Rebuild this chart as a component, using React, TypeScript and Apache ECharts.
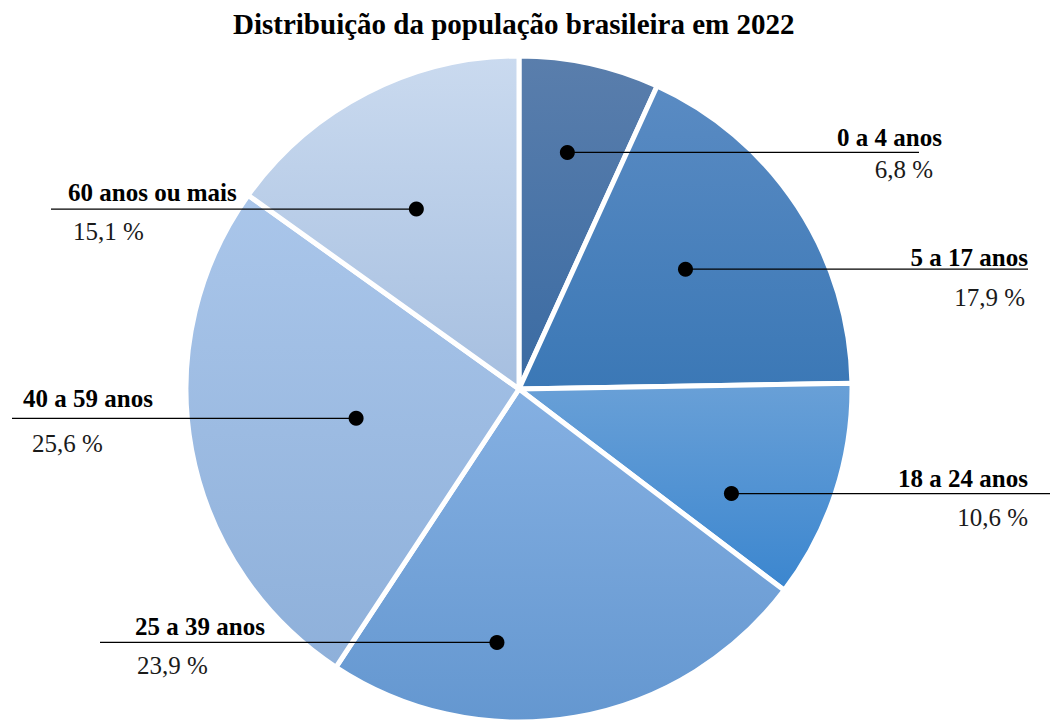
import React, { useEffect, useRef } from 'react';
import * as echarts from 'echarts';

// ---- data ----
const CATEGORIES = ['0 a 4 anos', '5 a 17 anos', '18 a 24 anos', '25 a 39 anos', '40 a 59 anos', '60 anos ou mais'];
const SHARES = [6.8, 17.9, 10.6, 23.9, 25.6, 15.1];
const TITLE = 'Distribuição da população brasileira em 2022';

// ---- styling / layout ----
const TOP_COLORS = ['#5a7eac', '#5a8bc3', '#69a0d7', '#85b0e2', '#aac6ea', '#cadaef'];
const BOTTOM_COLORS = ['#3a6ba3', '#3b78b6', '#3b86cf', '#6497d0', '#8eb0da', '#a6bfe0'];
const CX = 519;
const CY = 389;
const R = 333;
const DOT_RADIUS = [0.725, 0.616, 0.711, 0.764, 0.497, 0.622];
const DOT_SHIFT_DEG = [-0.7, -2.5, 8.1, 14.7, 0.35, -2.5];
const LABEL_SIDE = ['R', 'R', 'R', 'L', 'L', 'L'];
const NAME_X = [942, 1028, 1028, 135, 23, 68];
const PCT_X = [933, 1025, 1028, 137, 32, 73];
const NAME_DY = [-15, -12, -15, -16, -20, -17];
const PCT_DY = [17, 28, 24, 23, 25, 22];
const LINE_END_X = [919, 1028, 1050, 100, 12, 51];

const SERIF = '"Liberation Serif", "Times New Roman", serif';

export default function App() {
  const ref = useRef<HTMLDivElement>(null);

  useEffect(() => {
    if (!ref.current) return;
    const chart = echarts.init(ref.current, null, { renderer: 'svg' });
    const total = SHARES.reduce((a, b) => a + b, 0);
    const starts: number[] = [];
    let acc = 0;
    SHARES.forEach((v) => {
      starts.push(acc);
      acc += v;
    });
    // angle (in % of full turn) where each slice's marker sits
    const dotPct = SHARES.map((v, i) => ((starts[i] + v / 2) / total) * 100 + DOT_SHIFT_DEG[i] / 3.6);
    const fmt = (v: number) => v.toFixed(1).replace('.', ',') + ' %';

    chart.setOption({
      animation: false,
      backgroundColor: '#ffffff',
      title: {
        text: TITLE,
        left: 228,
        top: 4,
        textStyle: { fontFamily: SERIF, fontWeight: 'bold', fontSize: 29, color: '#000' },
      },
      polar: { center: [CX, CY], radius: R },
      angleAxis: { type: 'value', min: 0, max: 100, startAngle: 90, clockwise: true, show: false },
      radiusAxis: { type: 'value', min: 0, max: 1, show: false },
      series: [
        {
          type: 'pie',
          center: [CX, CY],
          radius: R,
          startAngle: 90,
          clockwise: true,
          silent: true,
          emphasis: { disabled: true },
          label: { show: false },
          labelLine: { show: false },
          itemStyle: { borderColor: '#ffffff', borderWidth: 5 },
          data: CATEGORIES.map((name, i) => ({
            name,
            value: SHARES[i],
            itemStyle: {
              color: new echarts.graphic.LinearGradient(0, 0, 0, 1, [
                { offset: 0, color: TOP_COLORS[i] },
                { offset: 1, color: BOTTOM_COLORS[i] },
              ]),
            },
          })),
        },
        {
          type: 'custom',
          coordinateSystem: 'polar',
          silent: true,
          z: 10,
          data: SHARES.map((_, i) => [DOT_RADIUS[i], dotPct[i]]),
          renderItem: (params: any, api: any) => {
            const i = params.dataIndex;
            const p = api.coord([api.value(0), api.value(1)]);
            const right = LABEL_SIDE[i] === 'R';
            const align = right ? 'right' : 'left';
            return {
              type: 'group',
              children: [
                {
                  type: 'line',
                  shape: { x1: p[0], y1: p[1], x2: LINE_END_X[i], y2: p[1] },
                  style: { stroke: '#000', lineWidth: 1.3 },
                },
                {
                  type: 'circle',
                  shape: { cx: p[0], cy: p[1], r: 7.5 },
                  style: { fill: '#000' },
                },
                {
                  type: 'text',
                  x: NAME_X[i],
                  y: p[1] + NAME_DY[i],
                  style: {
                    text: CATEGORIES[i],
                    fontFamily: SERIF,
                    fontWeight: 'bold',
                    fontSize: 25,
                    fill: '#000',
                    align,
                    verticalAlign: 'middle',
                  },
                },
                {
                  type: 'text',
                  x: PCT_X[i],
                  y: p[1] + PCT_DY[i],
                  style: {
                    text: fmt(SHARES[i]),
                    fontFamily: SERIF,
                    fontWeight: 'normal',
                    fontSize: 25,
                    fill: '#1a1a1a',
                    align,
                    verticalAlign: 'middle',
                  },
                },
              ],
            };
          },
        },
      ],
    });
    return () => chart.dispose();
  }, []);

  return <div ref={ref} style={{ position: 'fixed', left: 0, top: 0, width: 1050, height: 722 }} />;
}
